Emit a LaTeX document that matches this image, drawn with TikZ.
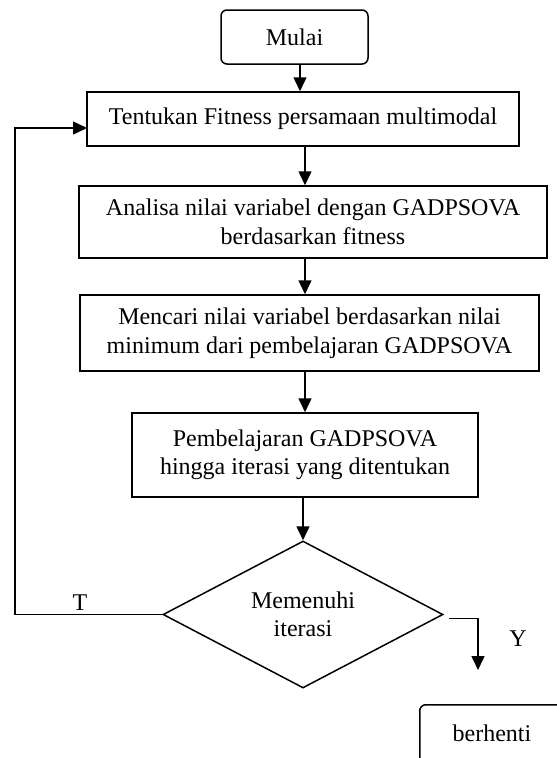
\documentclass[tikz,border=0pt]{standalone}
\usepackage{fontspec}
\setmainfont{Liberation Serif}
\usetikzlibrary{shapes.geometric,arrows.meta}
\begin{document}
\begin{tikzpicture}[x=1pt,y=-1pt,
  every node/.style={font=\fontsize{24}{28.5}\selectfont},
  box/.style={draw,line width=1.5pt,rectangle,align=center,inner sep=0pt},
  rbox/.style={box,rounded corners=6pt},
  dec/.style={draw,line width=1.5pt,diamond,shape aspect=1.9,align=center,inner sep=0pt,minimum width=280pt,minimum height=147pt},
  lab/.style={inner sep=0pt},
  arr/.style={line width=1.5pt,-{Triangle[length=14pt,width=13pt]}}]
\useasboundingbox (0,0) rectangle (557,758);
\clip (0,0) rectangle (557,758);
\fill[white] (0,0) rectangle (557,758);
\node[rbox,minimum width=147pt,minimum height=54pt] (mulai) at (294.5,37) {Mulai};
\node[box,minimum width=432pt,minimum height=54pt] (b1) at (303,119) {Tentukan Fitness persamaan multimodal};
\node[box,minimum width=468pt,minimum height=72pt] (b2) at (313,222) {Analisa nilai variabel dengan GADPSOVA\\berdasarkan fitness};
\node[box,minimum width=459pt,minimum height=76pt] (b3) at (309.5,333) {Mencari nilai variabel berdasarkan nilai\\minimum dari pembelajaran GADPSOVA};
\node[box,minimum width=346pt,minimum height=84pt] (b4) at (305,455) {Pembelajaran GADPSOVA\\hingga iterasi yang ditentukan};
\node[dec] (d) at (303,614.5) {Memenuhi\\iterasi};
\node[rbox,minimum width=150pt,minimum height=62pt,anchor=north west] (stop) at (419,704) {};
\node[lab] (stoptxt) at (492,733) {berhenti};
\node[lab] (T) at (80,603) {T};
\node[lab] (Y) at (518,639) {Y};
\coordinate (a0) at (300,0);
\coordinate (ax) at (305,0);
\coordinate (fl) at (15,0);
\coordinate (fb) at (87,128);
\coordinate (yend) at (478,670);
\draw[arr] (mulai.south -| a0) -- (b1.north -| a0);
\draw[arr] (b1.south -| ax) -- (b2.north -| ax);
\draw[arr] (b2.south -| ax) -- (b3.north -| ax);
\draw[arr] (b3.south -| ax) -- (b4.north -| ax);
\draw[arr] (b4.south -| d.north) -- (d.north);
\draw[arr] (d.west) -- (d.west -| fl) -- (fl |- fb) -- (fb);
\draw[arr] ([xshift=5pt,yshift=-4pt]d.east) -| (yend);
\end{tikzpicture}
\end{document}
